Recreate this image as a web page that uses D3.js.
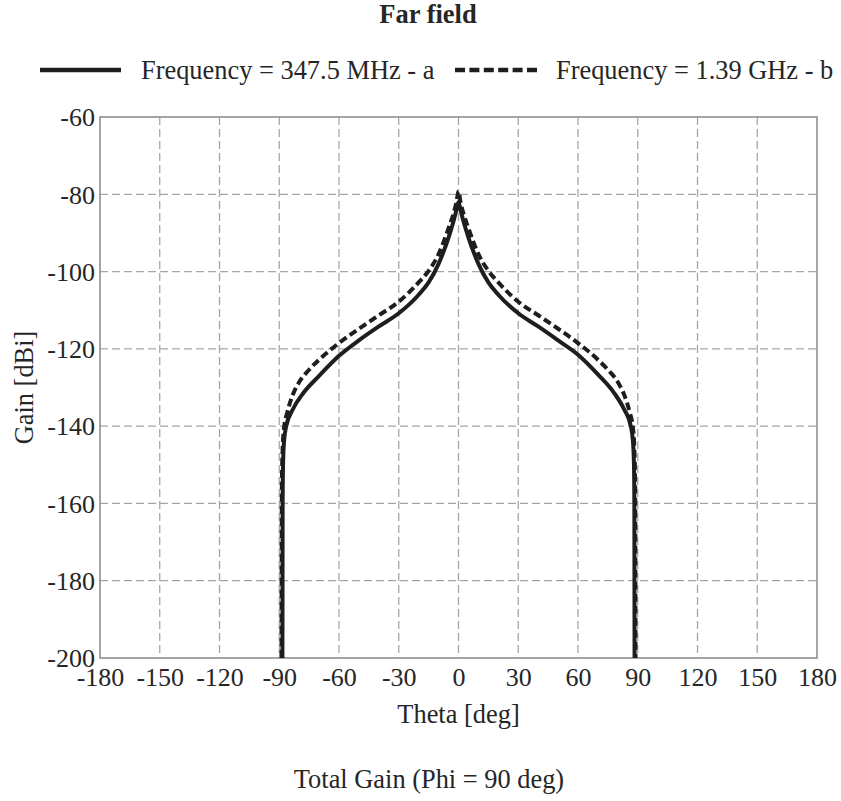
<html>

<head>
    <meta charset="utf-8">
    <style>
        body { margin: 0; background: #fff; }
        text { font-family: "Liberation Serif", "Times New Roman", serif; fill: #262626; }
    </style>
</head>

<body>
    <div id="my_dataviz"></div>
</body>

<script src="https://d3js.org/d3.v7.min.js"></script>
<script>
    // tick labels
    var xTicks = [-180, -150, -120, -90, -60, -30, 0, 30, 60, 90, 120, 150, 180];
    var yTicks = [-60, -80, -100, -120, -140, -160, -180, -200];

    // series a : 347.5 MHz (solid)
    var thetaA = [-88.4, -88.3, -88.1, -87.6, -86.5, -83, -78, -70, -60, -50, -40, -30, -20, -15, -10, -5, -2.5, -1, 0,
        1, 2.5, 5, 10, 15, 20, 30, 40, 50, 60, 70, 78, 83, 86.5, 87.6, 88.1, 88.3, 88.4];
    var gainA = [-200, -160, -150, -144, -140, -135.5, -131.5, -127, -121.8, -117.8, -114.2, -110.8, -106, -102.8, -98, -91.2, -87, -84, -82,
        -84, -87, -91.2, -98, -102.8, -106, -110.8, -114.2, -117.8, -121.5, -126.6, -131.3, -135.5, -140, -144, -150, -160, -200];

    // series b : 1.39 GHz (dashed)
    var thetaB = [-88.9, -88.7, -88.3, -87.6, -86, -83.5, -80, -75, -70, -60, -50, -40, -30, -20, -15, -10, -5, -2.5, -1, 0,
        1, 2.5, 5, 10, 15, 20, 30, 40, 50, 60, 70, 75, 80, 83.5, 86, 87.6, 88.3, 88.7, 88.9];
    var gainB = [-200, -155, -146, -140.5, -136.5, -132.3, -128.6, -125.4, -122.8, -118.5, -114.8, -111.3, -107.8, -102.8, -99.8, -95.5, -88.8, -85, -82, -79.2,
        -82, -85, -88.8, -95.5, -99.8, -102.8, -107.8, -111.3, -114.8, -118.5, -122.8, -125.4, -128.6, -132.3, -136.5, -140.5, -146, -155, -200];

    var legendA = "Frequency = 347.5 MHz - a";
    var legendB = "Frequency = 1.39 GHz - b";

    var W = 841, H = 801;
    var pLeft = 100, pRight = 817, pTop = 117, pBottom = 658;

    var svg = d3.select("#my_dataviz")
        .append("svg")
        .attr("width", W)
        .attr("height", H);

    var x = d3.scaleLinear().domain([-180, 180]).range([pLeft, pRight]);
    var y = d3.scaleLinear().domain([-200, -60]).range([pBottom, pTop]);

    // grid
    svg.append("g")
        .selectAll("line")
        .data(xTicks.slice(1, -1))
        .enter()
        .append("line")
        .attr("x1", function (d) { return x(d); })
        .attr("x2", function (d) { return x(d); })
        .attr("y1", pTop)
        .attr("y2", pBottom)
        .attr("stroke", "#a3a7ab")
        .attr("stroke-width", 1.3)
        .attr("stroke-dasharray", "8,4");

    svg.append("g")
        .selectAll("line")
        .data(yTicks.slice(1, -1))
        .enter()
        .append("line")
        .attr("x1", pLeft)
        .attr("x2", pRight)
        .attr("y1", function (d) { return y(d); })
        .attr("y2", function (d) { return y(d); })
        .attr("stroke", "#a3a7ab")
        .attr("stroke-width", 1.3)
        .attr("stroke-dasharray", "8,4");

    // axes (labels only), plain hyphen as in the original
    var fmt = function (d) { return String(d); };

    var xAxis = svg.append("g")
        .attr("transform", "translate(0," + pBottom + ")")
        .call(d3.axisBottom(x).tickValues(xTicks).tickFormat(fmt).tickSize(0));
    xAxis.select(".domain").remove();
    xAxis.selectAll("text")
        .attr("dy", null)
        .attr("y", 28)
        .style("font-family", "Liberation Serif")
        .style("font-size", "26px")
        .attr("fill", "#2a2a2a");

    var yAxis = svg.append("g")
        .attr("transform", "translate(" + pLeft + ",0)")
        .call(d3.axisLeft(y).tickValues(yTicks).tickFormat(fmt).tickSize(0).tickPadding(5));
    yAxis.select(".domain").remove();
    yAxis.selectAll("text")
        .attr("dy", "0.34em")
        .style("font-family", "Liberation Serif")
        .style("font-size", "26px")
        .attr("fill", "#2a2a2a");

    // frame
    svg.append("rect")
        .attr("x", pLeft)
        .attr("y", pTop)
        .attr("width", pRight - pLeft)
        .attr("height", pBottom - pTop)
        .attr("fill", "none")
        .attr("stroke", "#8c8f93")
        .attr("stroke-width", 1.6);

    // curves
    var line = d3.line()
        .x(function (d) { return x(d[0]); })
        .y(function (d) { return y(d[1]); })
        .curve(d3.curveMonotoneX);

    var dataA = d3.zip(thetaA, gainA);
    var dataB = d3.zip(thetaB, gainB);

    svg.append("path")
        .datum(dataB)
        .attr("d", line)
        .attr("fill", "none")
        .attr("stroke", "#1e1e1e")
        .attr("stroke-width", 4)
        .attr("stroke-dasharray", "8,4");

    svg.append("path")
        .datum(dataA)
        .attr("d", line)
        .attr("fill", "none")
        .attr("stroke", "#1e1e1e")
        .attr("stroke-width", 4);

    // title + legend
    svg.append("text")
        .attr("x", 428)
        .attr("y", 23)
        .attr("text-anchor", "middle")
        .style("font-size", "26.5px")
        .style("font-weight", "bold")
        .text("Far field");

    svg.append("line")
        .attr("x1", 40).attr("x2", 121)
        .attr("y1", 70).attr("y2", 70)
        .attr("stroke", "#1e1e1e")
        .attr("stroke-width", 4.5);
    svg.append("text")
        .attr("x", 141)
        .attr("y", 79)
        .style("font-size", "26.4px")
        .text(legendA);

    svg.append("line")
        .attr("x1", 455).attr("x2", 537)
        .attr("y1", 70).attr("y2", 70)
        .attr("stroke", "#1e1e1e")
        .attr("stroke-width", 4.5)
        .attr("stroke-dasharray", "10,4.4");
    svg.append("text")
        .attr("x", 556)
        .attr("y", 79)
        .style("font-size", "26.4px")
        .text(legendB);

    // axis titles
    svg.append("text")
        .attr("x", (pLeft + pRight) / 2)
        .attr("y", 723)
        .attr("text-anchor", "middle")
        .style("font-size", "26.4px")
        .text("Theta [deg]");

    svg.append("text")
        .attr("transform", "translate(33," + ((pTop + pBottom) / 2) + ")rotate(-90)")
        .attr("text-anchor", "middle")
        .style("font-size", "26.4px")
        .text("Gain [dBi]");

    svg.append("text")
        .attr("x", 429)
        .attr("y", 788)
        .attr("text-anchor", "middle")
        .style("font-size", "26.4px")
        .text("Total Gain (Phi = 90 deg)");
</script>

</html>
